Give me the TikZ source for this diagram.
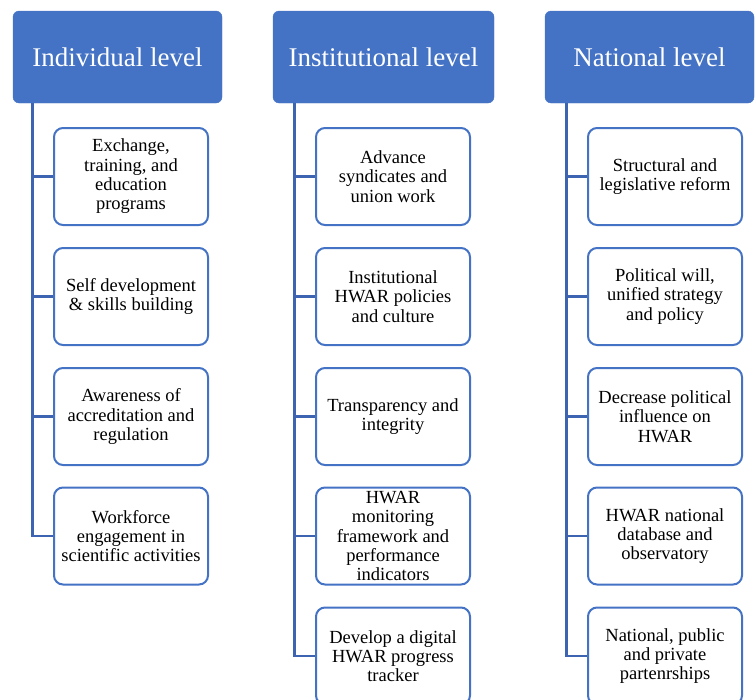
\documentclass[tikz,border=0pt]{standalone}
\usepackage{fontspec}
\setmainfont{Liberation Serif}
\definecolor{hwarblue}{HTML}{4472C4}
\definecolor{linkblue}{HTML}{3D64B0}
\tikzset{
	levelbox/.style={draw=hwarblue, fill=hwarblue, rounded corners=6pt, minimum height=92pt,
		text=white, font=\fontsize{27}{31}\selectfont, inner sep=0pt},
	itembox/.style={draw=hwarblue, line width=2pt, fill=white, rounded corners=9pt,
		minimum width=154pt, minimum height=97pt, align=center,
		font=\fontsize{18.5}{19.3}\selectfont, inner xsep=2pt, inner ysep=0pt},
	link/.style={draw=linkblue, line width=2.8pt}
}
\begin{document}
\begin{tikzpicture}[x=1pt,y=-1pt]
		\useasboundingbox (0,0) rectangle (755,699);
		% column headers
		\node[levelbox, minimum width=209pt] (ind) at (117.5,57) {Individual level};
		\node[levelbox, minimum width=221pt] (ins) at (383.5,57) {Institutional level};
		\node[levelbox, minimum width=209pt] (nat) at (649.5,57) {National level};
		
		% individual level
		\node[itembox] (i1) at (131,176.5) {Exchange,\\training, and\\education\\programs};
		\node[itembox] (i2) at (131,296.5) {Self development\\\& skills building};
		\node[itembox] (i3) at (131,416.5) {Awareness of\\accreditation and\\regulation};
		\node[itembox] (i4) at (131,536) {Workforce\\engagement in\\scientific activities};
		
		% institutional level
		\node[itembox] (s1) at (393,176.5) {Advance\\syndicates and\\union work};
		\node[itembox] (s2) at (393,296.5) {Institutional\\HWAR policies\\and culture};
		\node[itembox] (s3) at (393,416.5) {Transparency and\\integrity};
		\node[itembox] (s4) at (393,536) {HWAR\\monitoring\\framework and\\performance\\indicators};
		\node[itembox] (s5) at (393,656) {Develop a digital\\HWAR progress\\tracker};
		
		% national level
		\node[itembox] (n1) at (665,176.5) {Structural and\\legislative reform};
		\node[itembox] (n2) at (665,296.5) {Political will,\\unified strategy\\and policy};
		\node[itembox] (n3) at (665,416.5) {Decrease political\\influence on\\HWAR};
		\node[itembox] (n4) at (665,536) {HWAR national\\database and\\observatory};
		\node[itembox] (n5) at (665,656) {National, public\\and private\\partenrships};
		
		% trunks
		\coordinate (itop) at ([xshift=20pt]ind.south west);
		\coordinate (stop) at ([xshift=22pt]ins.south west);
		\coordinate (ntop) at ([xshift=22pt]nat.south west);
		\draw[link] (itop) |- (i4.west);
		\draw[link] (stop) |- (s5.west);
		\draw[link] (ntop) |- (n5.west);
		
		% branches
		\draw[link] (i1.west) -- (i1.west -| itop);
		\draw[link] (i2.west) -- (i2.west -| itop);
		\draw[link] (i3.west) -- (i3.west -| itop);
		\draw[link] (s1.west) -- (s1.west -| stop);
		\draw[link] (s2.west) -- (s2.west -| stop);
		\draw[link] (s3.west) -- (s3.west -| stop);
		\draw[link] (s4.west) -- (s4.west -| stop);
		\draw[link] (n1.west) -- (n1.west -| ntop);
		\draw[link] (n2.west) -- (n2.west -| ntop);
		\draw[link] (n3.west) -- (n3.west -| ntop);
		\draw[link] (n4.west) -- (n4.west -| ntop);
	\end{tikzpicture}
\end{document}
